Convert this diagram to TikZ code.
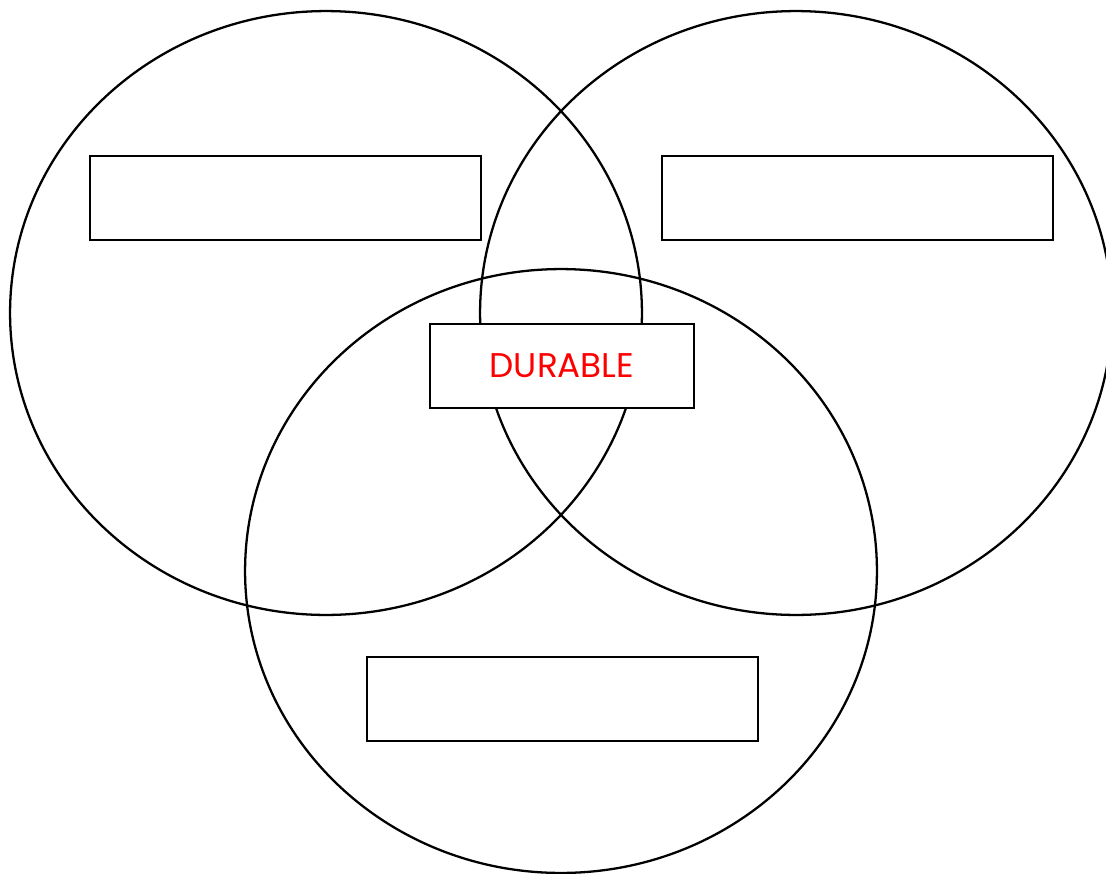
\documentclass[tikz,border=0pt]{standalone}
\usepackage{fontspec}
\newfontfamily\labelfont{Poppins}
\usetikzlibrary{shapes.geometric}
\definecolor{cred}{HTML}{FF0000}
\tikzset{
  every picture/.style={line width=1.3pt},
  ring/.style={draw=black, ellipse, minimum width=12.64cm, minimum height=12.08cm, inner sep=0pt},
  slot/.style={draw=black, fill=white, rectangle, minimum width=7.82cm, minimum height=1.68cm, inner sep=0pt},
  tag/.style={slot, minimum width=5.28cm, font=\labelfont\fontsize{19.5}{22}\selectfont, text=cred},
}
\begin{document}
\begin{tikzpicture}[x=0.02cm, y=-0.02cm]
  \useasboundingbox (0,0) rectangle (1106,873);
  % three overlapping rings
  \node[ring] (left) at (326,313) {};
  \node[ring] (right) at (796,313) {};
  \node[ring] (bottom) at (561,571) {};
  % empty label boxes
  \node[slot] (leftbox) at (285.5,198) {};
  \node[slot] (rightbox) at (857.5,198) {};
  \node[slot] (bottombox) at (562.5,699) {};
  % centre box
  \node[tag] (centre) at (562,366) {\raisebox{-1.5pt}{DURABLE}};
\end{tikzpicture}
\end{document}
